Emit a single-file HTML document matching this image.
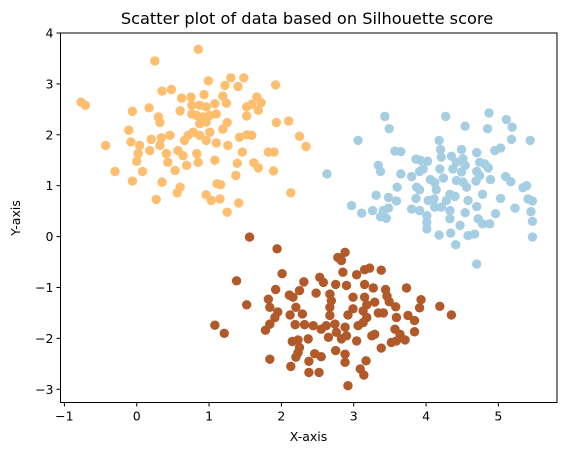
<!DOCTYPE html>
<html><head><meta charset="utf-8"><style>
html,body{margin:0;padding:0;background:#fff;}
svg{display:block;font-family:"DejaVu Sans","Liberation Sans",sans-serif;}
</style></head>
<body>
<svg id="chart" width="565" height="455" viewBox="0 0 565 455">
<rect width="565" height="455" fill="#fff"/>
<text x="307" y="24" font-size="16.2" text-anchor="middle" fill="#000">Scatter plot of data based on Silhouette  score</text>
<g id="marks"></g>
<g id="axes"></g>
<text x="308.5" y="441" font-size="12.5" text-anchor="middle">X-axis</text>
<text transform="translate(20,218) rotate(-90)" font-size="12.5" text-anchor="middle">Y-axis</text>
</svg>
<script>
const orangeX=[0.85,0.25,-0.77,-0.71,0.99,1.30,1.48,1.22,1.40,1.92,0.35,0.48,0.62,0.93,0.75,-0.06,0.17,0.60,0.76,0.87,0.96,1.08,1.19,1.24,1.66,1.72,1.52,1.59,1.68,1.52,0.30,0.32,0.76,0.83,0.92,1.01,1.10,0.96,0.87,1.25,1.19,1.93,2.10,2.25,2.34,-0.11,-0.08,0.04,-0.43,0.20,0.34,0.46,0.18,0.32,0.71,0.66,0.78,0.87,1.01,0.96,1.10,1.26,1.42,1.52,1.59,0.02,0.00,0.41,0.43,0.57,0.64,0.83,0.85,0.69,1.08,1.46,1.82,1.90,1.39,1.62,1.68,1.89,-0.30,0.08,0.53,1.37,-0.06,0.35,0.60,0.56,1.11,1.16,0.96,1.03,1.15,0.27,1.41,1.25,2.13];
const orangeY=[3.68,3.45,2.64,2.58,3.06,3.12,3.12,2.97,2.95,2.98,2.86,2.89,2.72,2.79,2.74,2.46,2.53,2.47,2.58,2.58,2.55,2.61,2.76,2.62,2.74,2.63,2.55,2.60,2.48,2.37,2.35,2.24,2.41,2.38,2.35,2.38,2.41,2.25,2.22,2.24,2.11,2.24,2.27,1.97,1.77,2.09,1.86,1.79,1.79,1.91,1.94,1.99,1.69,1.79,1.99,1.89,2.05,1.99,2.05,1.89,1.84,1.79,1.95,2.00,1.99,1.63,1.48,1.63,1.46,1.69,1.59,1.63,1.46,1.40,1.50,1.66,1.66,1.66,1.44,1.45,1.35,1.29,1.28,1.28,1.30,1.20,1.09,1.07,0.97,0.86,1.04,1.02,0.82,0.71,0.74,0.73,0.66,0.48,0.86];
const blueX=[3.43,3.49,4.27,4.54,4.87,5.11,5.19,4.85,5.18,5.44,3.06,4.18,3.57,3.65,4.20,4.49,4.70,4.95,5.03,3.86,3.92,4.02,4.21,4.35,4.42,4.51,4.54,4.74,4.81,4.86,2.63,3.34,3.37,3.65,3.80,3.91,3.96,4.19,4.24,4.37,4.49,4.70,4.74,4.69,4.89,5.10,5.17,4.06,4.12,4.42,4.51,4.56,5.34,5.39,3.60,3.87,3.91,4.14,4.33,4.40,4.78,3.31,3.48,3.59,3.86,4.03,4.11,4.28,4.58,5.03,5.41,5.47,2.97,3.11,3.26,3.41,3.48,3.37,3.45,3.80,3.91,4.01,4.12,4.21,4.33,4.54,4.70,4.96,5.23,5.45,4.01,4.01,4.33,4.47,4.72,4.78,4.88,5.47,4.18,4.34,4.58,4.67,5.47,4.41,4.70];
const blueY=[2.36,2.12,2.36,2.17,2.43,2.30,2.15,2.12,1.91,1.89,1.89,1.89,1.68,1.67,1.71,1.71,1.65,1.69,1.74,1.52,1.50,1.48,1.56,1.58,1.46,1.53,1.40,1.46,1.43,1.35,1.23,1.40,1.28,1.23,1.18,1.28,1.33,1.33,1.15,1.33,1.27,1.28,1.20,1.09,1.12,1.18,1.08,1.12,1.06,1.10,1.07,0.97,0.96,1.00,0.97,0.97,0.92,0.92,0.83,0.79,0.83,0.81,0.77,0.70,0.75,0.71,0.74,0.71,0.71,0.75,0.74,0.70,0.61,0.46,0.51,0.51,0.56,0.39,0.36,0.54,0.51,0.41,0.58,0.58,0.51,0.47,0.59,0.45,0.56,0.49,0.28,0.15,0.35,0.22,0.35,0.25,0.25,0.30,0.03,0.07,0.02,0.05,-0.01,-0.16,-0.54];
const brownX=[1.56,1.94,2.78,2.88,2.83,1.38,2.01,2.31,2.53,2.58,2.85,3.04,3.15,3.22,3.38,3.73,1.92,2.25,2.48,2.75,2.90,3.15,3.27,3.44,3.46,1.82,1.84,2.11,2.16,2.67,2.69,2.99,3.15,3.18,3.29,3.49,3.58,3.93,3.91,4.19,4.35,1.52,1.95,1.91,2.12,2.20,2.29,2.67,2.67,2.92,2.99,3.13,3.18,3.34,3.41,3.59,3.75,3.84,1.08,1.21,1.78,1.84,2.19,2.32,2.44,2.55,2.62,2.74,2.88,3.06,3.13,3.57,3.64,3.84,2.15,2.23,2.37,2.65,2.76,2.83,2.90,3.04,3.25,3.29,3.52,3.59,3.71,2.25,2.23,2.46,2.55,2.75,2.88,3.38,1.84,2.20,2.38,2.88,3.17,2.13,2.38,2.52,3.09,3.14,2.92];
const brownY=[-0.01,-0.24,-0.41,-0.31,-0.47,-0.87,-0.73,-0.89,-0.80,-0.90,-0.70,-0.75,-0.65,-0.62,-0.66,-1.01,-1.04,-1.06,-1.11,-0.94,-0.96,-0.94,-1.01,-1.04,-1.17,-1.23,-1.39,-1.15,-1.19,-1.13,-1.26,-1.19,-1.19,-1.34,-1.29,-1.28,-1.38,-1.24,-1.40,-1.37,-1.54,-1.34,-1.48,-1.59,-1.54,-1.39,-1.52,-1.39,-1.55,-1.54,-1.42,-1.46,-1.59,-1.50,-1.50,-1.59,-1.55,-1.65,-1.74,-1.90,-1.84,-1.72,-1.73,-1.73,-1.75,-1.82,-1.75,-1.72,-1.78,-1.75,-1.69,-1.82,-1.92,-1.87,-2.06,-2.03,-2.01,-1.98,-1.88,-2.01,-1.95,-2.05,-1.95,-1.92,-2.08,-2.05,-2.03,-2.18,-2.28,-2.30,-2.36,-2.24,-2.31,-2.19,-2.41,-2.37,-2.45,-2.47,-2.44,-2.55,-2.67,-2.67,-2.60,-2.72,-2.93];
const xTicks=[-1,0,1,2,3,4,5];
const yTicks=[-3,-2,-1,0,1,2,3,4];
const xTickLabels=["\u22121","0","1","2","3","4","5"];
const yTickLabels=["\u22123","\u22122","\u22121","0","1","2","3","4"];

const NS="http://www.w3.org/2000/svg";
const L=60.5,R=557,T=33,B=402.5;
const X0=-1.054,X1=5.81,Y0=-3.26,Y1=4.0;
function sx(v){return L+(v-X0)/(X1-X0)*(R-L);}
function sy(v){return B-(v-Y0)/(Y1-Y0)*(B-T);}
const marks=document.getElementById('marks');
function drawSeries(xs,ys,color,name){
  for(let i=0;i<xs.length;i++){
    const c=document.createElementNS(NS,'circle');
    c.setAttribute('cx',sx(xs[i]));c.setAttribute('cy',sy(ys[i]));
    c.setAttribute('r',4.7);c.setAttribute('fill',color);
    
    
    marks.appendChild(c);
  }
}
drawSeries(orangeX,orangeY,'#fdbf6f','point-cluster-orange');
drawSeries(blueX,blueY,'#a6cee3','point-cluster-blue');
drawSeries(brownX,brownY,'#b15928','point-cluster-brown');

const axes=document.getElementById('axes');
const frame=document.createElementNS(NS,'rect');
frame.setAttribute('x',L);frame.setAttribute('y',T);frame.setAttribute('width',R-L);frame.setAttribute('height',B-T);
frame.setAttribute('fill','none');frame.setAttribute('stroke','#000');frame.setAttribute('stroke-width','1');


axes.appendChild(frame);
xTicks.forEach((t,i)=>{
  const x=sx(t);
  const ln=document.createElementNS(NS,'line');
  ln.setAttribute('x1',x);ln.setAttribute('x2',x);ln.setAttribute('y1',B);ln.setAttribute('y2',B+4);
  ln.setAttribute('stroke','#000');
  
  
  axes.appendChild(ln);
  const tx=document.createElementNS(NS,'text');
  tx.setAttribute('x',x);tx.setAttribute('y',B+18);tx.setAttribute('font-size','12.5');tx.setAttribute('text-anchor','middle');
  tx.textContent=xTickLabels[i];
  
  
  axes.appendChild(tx);
});
yTicks.forEach((t,i)=>{
  const y=sy(t);
  const ln=document.createElementNS(NS,'line');
  ln.setAttribute('x1',L-4);ln.setAttribute('x2',L);ln.setAttribute('y1',y);ln.setAttribute('y2',y);
  ln.setAttribute('stroke','#000');
  
  
  axes.appendChild(ln);
  const tx=document.createElementNS(NS,'text');
  tx.setAttribute('x',L-7);tx.setAttribute('y',y+4.5);tx.setAttribute('font-size','12.5');tx.setAttribute('text-anchor','end');
  tx.textContent=yTickLabels[i];
  
  
  axes.appendChild(tx);
});
</script>
</body></html>
